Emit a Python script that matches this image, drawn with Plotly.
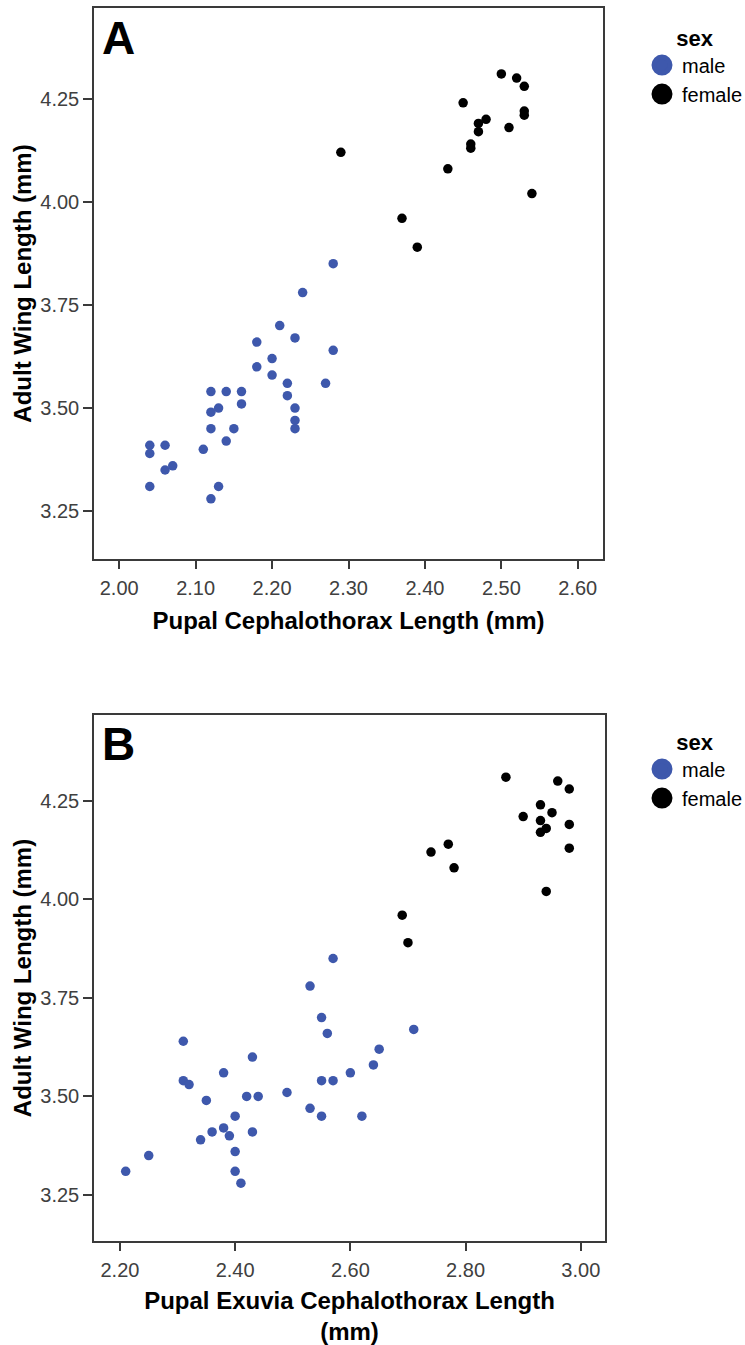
import plotly.graph_objects as go

# ---------------- data ----------------
# Panel A: Pupal cephalothorax length vs adult wing length
a_male_x = [2.28, 2.24, 2.21, 2.18, 2.23, 2.28, 2.20, 2.18, 2.20, 2.22, 2.27, 2.22, 2.23, 2.23, 2.23,
            2.12, 2.14, 2.16, 2.16, 2.13, 2.12, 2.12, 2.15, 2.14, 2.11, 2.04, 2.04, 2.06, 2.06, 2.07,
            2.04, 2.13, 2.12]
a_male_y = [3.85, 3.78, 3.70, 3.66, 3.67, 3.64, 3.62, 3.60, 3.58, 3.56, 3.56, 3.53, 3.50, 3.47, 3.45,
            3.54, 3.54, 3.54, 3.51, 3.50, 3.49, 3.45, 3.45, 3.42, 3.40, 3.41, 3.39, 3.41, 3.35, 3.36,
            3.31, 3.31, 3.28]
a_female_x = [2.29, 2.50, 2.52, 2.53, 2.45, 2.53, 2.53, 2.48, 2.47, 2.47, 2.51, 2.46, 2.46, 2.43,
              2.54, 2.37, 2.39]
a_female_y = [4.12, 4.31, 4.30, 4.28, 4.24, 4.22, 4.21, 4.20, 4.19, 4.17, 4.18, 4.14, 4.13, 4.08,
              4.02, 3.96, 3.89]

# Panel B: Pupal exuvia cephalothorax length vs adult wing length
b_male_x = [2.53, 2.55, 2.56, 2.71, 2.31, 2.65, 2.43, 2.64, 2.38, 2.60, 2.31, 2.32, 2.55, 2.57, 2.49,
            2.42, 2.44, 2.35, 2.53, 2.40, 2.55, 2.62, 2.38, 2.36, 2.39, 2.43, 2.34, 2.40, 2.25, 2.21,
            2.40, 2.41, 2.57]
b_male_y = [3.78, 3.70, 3.66, 3.67, 3.64, 3.62, 3.60, 3.58, 3.56, 3.56, 3.54, 3.53, 3.54, 3.54, 3.51,
            3.50, 3.50, 3.49, 3.47, 3.45, 3.45, 3.45, 3.42, 3.41, 3.40, 3.41, 3.39, 3.36, 3.35, 3.31,
            3.31, 3.28, 3.85]
b_female_x = [2.87, 2.96, 2.98, 2.93, 2.95, 2.90, 2.93, 2.98, 2.94, 2.93, 2.98, 2.94, 2.77, 2.74,
              2.78, 2.69, 2.70]
b_female_y = [4.31, 4.30, 4.28, 4.24, 4.22, 4.21, 4.20, 4.19, 4.18, 4.17, 4.13, 4.02, 4.14, 4.12,
              4.08, 3.96, 3.89]

a_xticks = [2.00, 2.10, 2.20, 2.30, 2.40, 2.50, 2.60]
b_xticks = [2.20, 2.40, 2.60, 2.80, 3.00]
y_ticks = [3.25, 3.50, 3.75, 4.00, 4.25]

sex_names = ["male", "female"]

# ---------------- style ----------------
W, H = 745, 1345
FONT = "Liberation Sans, Arial, sans-serif"
BLUE = "#3e58ac"
BLACK = "#000000"
AXC = "#3a3a3a"
TICKC = "#404040"
MS = 9.5

ML, MR, MT, MB = 94, 140, 8, 104
PH = H - MT - MB
PW = W - ML - MR


def py(pix):  # pixel (from top) -> paper y
    return (H - MB - pix) / PH


fig = go.Figure()

# data traces
fig.add_trace(go.Scatter(x=a_male_x, y=a_male_y, mode="markers", name="male",
                         marker=dict(color=BLUE, size=MS), showlegend=False,
                         xaxis="x", yaxis="y"))
fig.add_trace(go.Scatter(x=a_female_x, y=a_female_y, mode="markers", name="female",
                         marker=dict(color=BLACK, size=MS), showlegend=False,
                         xaxis="x", yaxis="y"))
fig.add_trace(go.Scatter(x=b_male_x, y=b_male_y, mode="markers", name="male",
                         marker=dict(color=BLUE, size=MS), showlegend=False,
                         xaxis="x2", yaxis="y2"))
fig.add_trace(go.Scatter(x=b_female_x, y=b_female_y, mode="markers", name="female",
                         marker=dict(color=BLACK, size=MS), showlegend=False,
                         xaxis="x2", yaxis="y2"))

# legend entries (larger symbols, as in the reference legends)
for lg, xa, ya in [("legend", "x", "y"), ("legend2", "x2", "y2")]:
    for nm, col in zip(sex_names, [BLUE, BLACK]):
        fig.add_trace(go.Scatter(x=[None], y=[None], mode="markers", name=nm,
                                 marker=dict(color=col, size=16, line=dict(color=col, width=5)),
                                 legend=lg, xaxis=xa, yaxis=ya, showlegend=True))

axis_common = dict(
    showgrid=False, zeroline=False, showline=True, linecolor=AXC, linewidth=1.5,
    mirror=True, ticks="outside", ticklen=9, tickwidth=1.5, tickcolor=AXC,
    tickfont=dict(family=FONT, size=20, color=TICKC), automargin=False,
    fixedrange=True,
)
title_font = dict(family=FONT, size=24, color="#000000", weight="bold")

a_bottom, a_top = py(558.7), py(8.3)
b_bottom, b_top = py(1240.7), py(715.3)

fig.update_layout(
    width=W, height=H,
    margin=dict(l=ML, r=MR, t=MT, b=MB),
    paper_bgcolor="white", plot_bgcolor="white",
    font=dict(family=FONT),
    xaxis=dict(axis_common, domain=[0, (603 - ML) / PW], range=[1.967, 2.633],
               tickvals=a_xticks, ticktext=[f"{v:.2f}" for v in a_xticks], anchor="y",
               ticklabelstandoff=2,
               title=dict(text="Pupal Cephalothorax Length (mm)", font=title_font, standoff=14)),
    yaxis=dict(axis_common, domain=[a_bottom, a_top], range=[3.135, 4.469],
               tickvals=y_ticks, ticktext=[f"{v:.2f}" for v in y_ticks], anchor="x",
               title=dict(text="Adult Wing Length (mm)", font=title_font, standoff=2)),
    xaxis2=dict(axis_common, domain=[0, (605 - ML) / PW], range=[2.155, 3.042],
                tickvals=b_xticks, ticktext=[f"{v:.2f}" for v in b_xticks], anchor="y2",
                ticklabelstandoff=2,
                title=dict(text="Pupal Exuvia Cephalothorax Length<br>(mm)", font=title_font,
                           standoff=12)),
    yaxis2=dict(axis_common, domain=[b_bottom, b_top], range=[3.134, 4.467],
                tickvals=y_ticks, ticktext=[f"{v:.2f}" for v in y_ticks], anchor="x2",
                title=dict(text="Adult Wing Length (mm)", font=title_font, standoff=2)),
    legend=dict(
        xref="container", yref="container", x=642 / W, y=1 - 17 / H,
        xanchor="left", yanchor="top", bgcolor="rgba(0,0,0,0)",
        font=dict(family=FONT, size=20, color="#000000"),
        title=dict(text="sex", side="top center",
                   font=dict(family=FONT, size=22, color="#000000", weight="bold")),
        itemclick=False, itemdoubleclick=False,
    ),
    legend2=dict(
        xref="container", yref="container", x=642 / W, y=1 - 721 / H,
        xanchor="left", yanchor="top", bgcolor="rgba(0,0,0,0)",
        font=dict(family=FONT, size=20, color="#000000"),
        title=dict(text="sex", side="top center",
                   font=dict(family=FONT, size=22, color="#000000", weight="bold")),
        itemclick=False, itemdoubleclick=False,
    ),
    annotations=[
        dict(text="<b>A</b>", xref="paper", yref="paper", x=0.012, y=py(38),
             xanchor="left", yanchor="middle", showarrow=False,
             font=dict(family=FONT, size=46, color="#000000")),
        dict(text="<b>B</b>", xref="paper", yref="paper", x=0.012, y=py(744),
             xanchor="left", yanchor="middle", showarrow=False,
             font=dict(family=FONT, size=46, color="#000000")),
    ],
)

fig.write_html("out.html")
